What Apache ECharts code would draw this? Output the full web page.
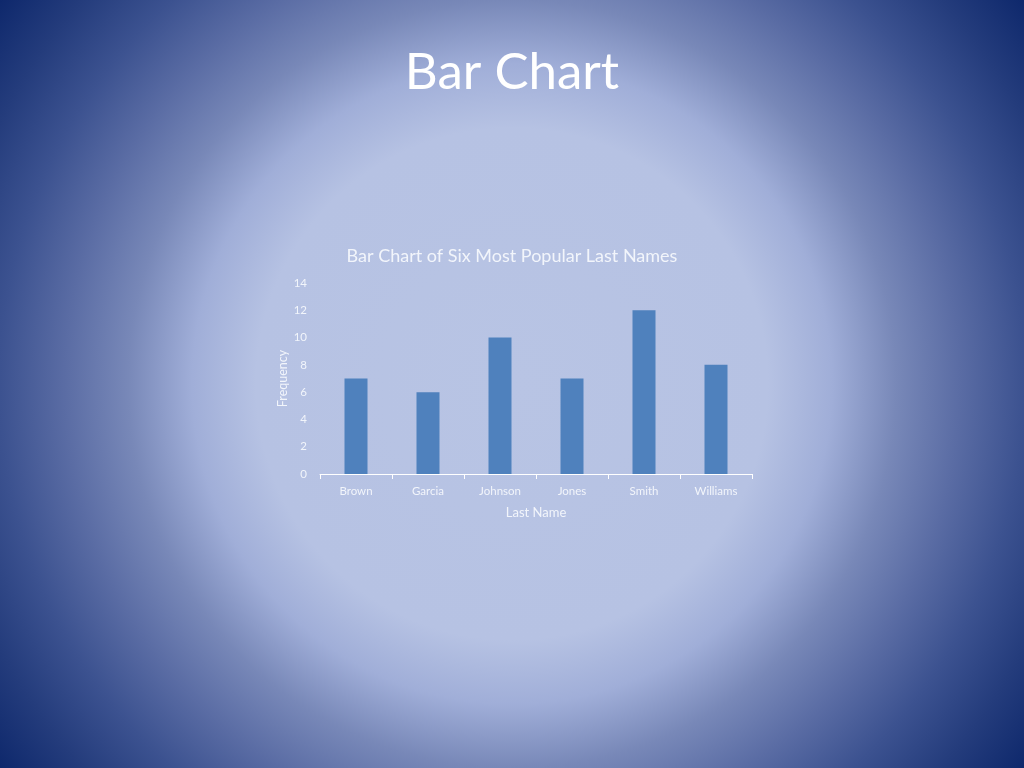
<!DOCTYPE html>
<html>
<head>
<meta charset="utf-8">
<script src="https://cdn.jsdelivr.net/npm/echarts@6/dist/echarts.min.js"></script>
<style>
html,body{margin:0;padding:0;width:1024px;height:768px;overflow:hidden;}
body{background:radial-gradient(circle farthest-corner at 50% 50%, #b8c4e4 0%, #b6c2e3 40%, #a0aed8 50%, #7888b8 60%, #5a6ca4 70%, #3c5290 80%, #243c7c 90%, #0e286c 100%);}
#main{width:1024px;height:768px;}
</style>
</head>
<body>
<div id="main"></div>
<script>
const categories = ['Brown', 'Garcia', 'Johnson', 'Jones', 'Smith', 'Williams'];
const frequency = [7, 6, 10, 7, 12, 8];
const yTicks = { min: 0, max: 14, interval: 2 };

const chart = echarts.init(document.getElementById('main'));
const font = 'Lato, "Open Sans", sans-serif';
chart.setOption({
  backgroundColor: 'transparent',
  title: [
    { text: 'Bar Chart', left: 'center', top: 42,
      textStyle: { color: '#ffffff', fontSize: 51, fontWeight: 'normal', fontFamily: font } },
    { text: 'Bar Chart of Six Most Popular Last Names', left: 'center', top: 242,
      textStyle: { color: '#f2f5fb', fontSize: 18, fontWeight: 'normal', fontFamily: font } }
  ],
  grid: { left: 320, right: 272, top: 283, bottom: 294, containLabel: false },
  xAxis: {
    type: 'category', data: categories,
    name: 'Last Name', nameLocation: 'middle', nameGap: 32,
    nameTextStyle: { color: '#f2f5fb', fontSize: 13, fontFamily: font },
    axisLine: { lineStyle: { color: '#ffffff', width: 1 } },
    axisTick: { show: true, length: 5, lineStyle: { color: '#ffffff' } },
    axisLabel: { color: '#f2f5fb', fontSize: 11.5, margin: 11, fontFamily: font }
  },
  yAxis: {
    type: 'value', min: yTicks.min, max: yTicks.max, interval: yTicks.interval,
    name: 'Frequency', nameLocation: 'middle', nameGap: 31,
    nameTextStyle: { color: '#f2f5fb', fontSize: 12.5, fontFamily: font },
    axisLine: { show: false }, axisTick: { show: false }, splitLine: { show: false },
    axisLabel: { color: '#f2f5fb', fontSize: 11.5, margin: 13, fontFamily: font }
  },
  series: [{
    type: 'bar', data: frequency, barWidth: 23,
    itemStyle: { color: '#4f81bd' }
  }]
});
</script>
</body>
</html>
